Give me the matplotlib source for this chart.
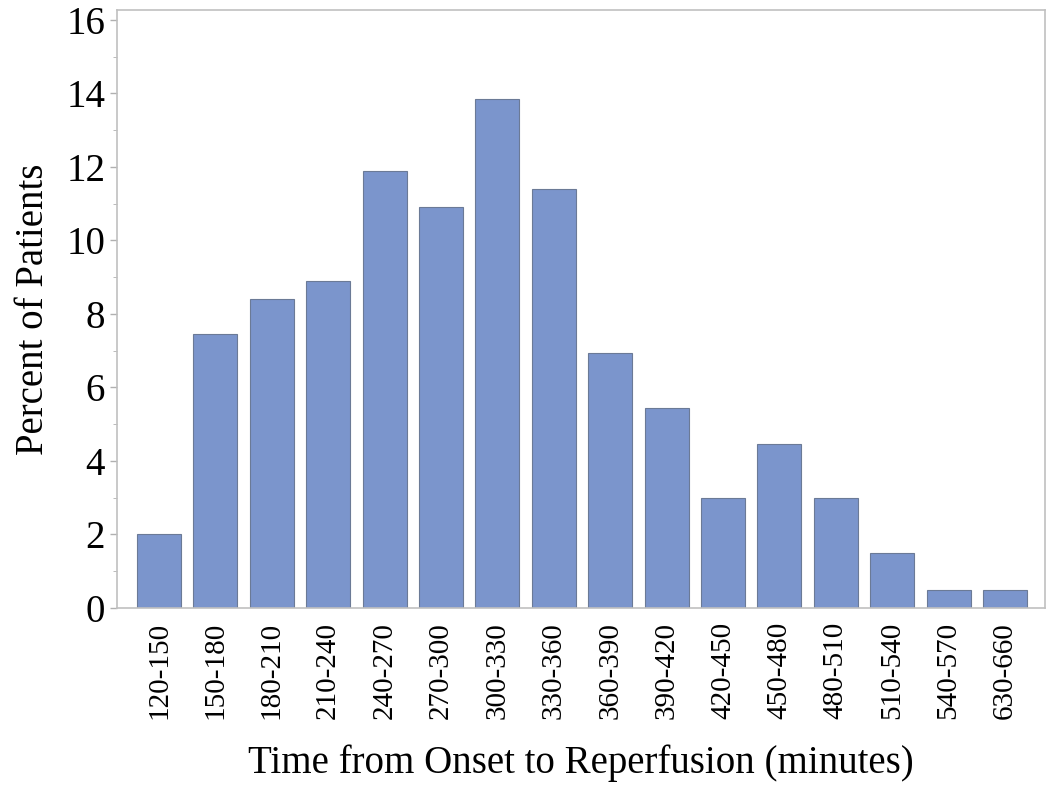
import matplotlib.pyplot as plt
from matplotlib.ticker import MultipleLocator

plt.rcParams['font.family'] = ['Liberation Serif', 'DejaVu Serif']

# bins (minutes) and percent of patients
bins = ['120-150', '150-180', '180-210', '210-240', '240-270', '270-300',
        '300-330', '330-360', '360-390', '390-420', '420-450', '450-480',
        '480-510', '510-540', '540-570', '630-660']
percent = [2.0, 7.45, 8.4, 8.9, 11.9, 10.9, 13.85, 11.4,
           6.95, 5.45, 3.0, 4.45, 3.0, 1.5, 0.5, 0.5]

fig = plt.figure(figsize=(10.5, 7.89), dpi=100)
ax = fig.add_axes([117 / 1050, 1 - 608 / 789, 928 / 1050, 598 / 789])

x = list(range(len(bins)))
ax.bar(x, percent, width=0.78, color='#7b95cc', edgecolor='#6b7a96', linewidth=0.8)

ax.set_xlim(-0.745, 15.71)
ax.set_ylim(0, 16.27)
ax.set_yticks(range(0, 17, 2))
ax.yaxis.set_minor_locator(MultipleLocator(1))
ax.set_xticks(x)
ax.set_xticklabels(bins, rotation=90, fontsize=21)
ax.tick_params(axis='x', length=0, pad=10)
ax.tick_params(axis='y', labelsize=28, length=5, color='#b0b0b0', width=1)
ax.tick_params(axis='y', which='minor', length=3, color='#b0b0b0')

for s in ax.spines.values():
    s.set_color('#c0c0c0')
    s.set_linewidth(1.2)

ax.set_ylabel('Percent of Patients', fontsize=28, labelpad=10)
ax.set_xlabel('Time from Onset to Reperfusion (minutes)', fontsize=28, labelpad=18)

fig.savefig('out.png', dpi=100)
